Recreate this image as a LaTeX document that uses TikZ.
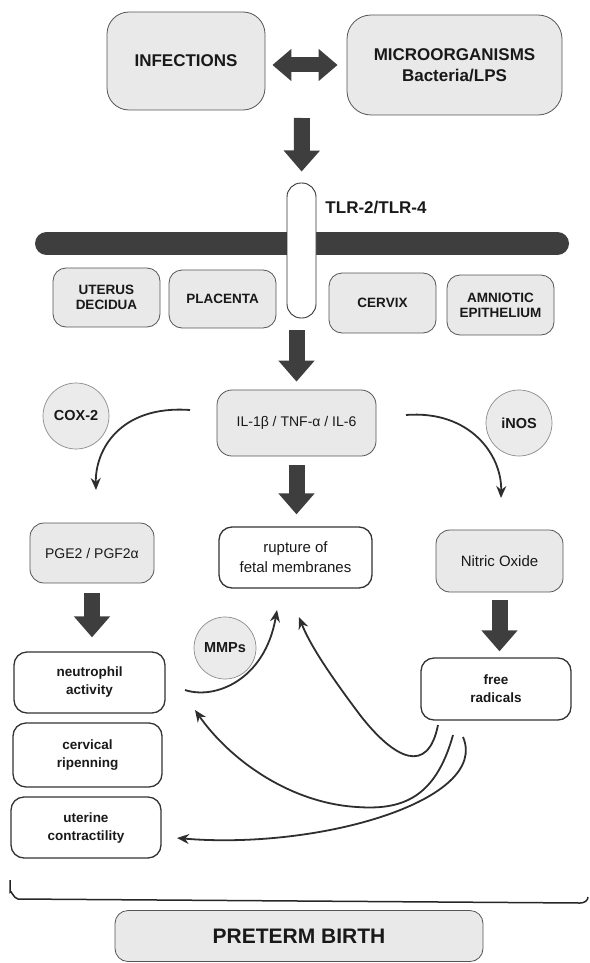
\documentclass[tikz,border=0pt]{standalone}
\usepackage{fontspec}
\setmainfont{Liberation Sans}
\usetikzlibrary{arrows.meta}
\definecolor{darkfill}{HTML}{3E3E3E}
\definecolor{boxfill}{HTML}{E9E9E9}
\definecolor{boxline}{HTML}{555555}
\begin{document}
\begin{tikzpicture}[x=1pt,y=-1pt,
  graybox/.style={draw=boxline, line width=0.8pt, fill=boxfill, align=center, inner sep=0pt, text=black!90},
  whitebox/.style={draw=black!80, line width=1.3pt, fill=white, rounded corners=13pt, align=center, inner sep=0pt, text=black!90},
  enzyme/.style={circle, draw=black!45, line width=0.7pt, fill=black!8, inner sep=0pt, text=black!90,
    font=\bfseries\fontsize{14.5pt}{16pt}\selectfont},
  bigfont/.style={font=\bfseries\fontsize{17pt}{21pt}\selectfont},
  tissuefont/.style={font=\bfseries\fontsize{13.5pt}{15pt}\selectfont},
  labfont/.style={font=\fontsize{14pt}{19pt}\selectfont},
  largelab/.style={font=\fontsize{15pt}{20pt}\selectfont},
  boldlab/.style={font=\bfseries\fontsize{13.5pt}{18pt}\selectfont},
  blockarrow/.style={draw=darkfill, line width=16pt, -{Triangle[length=21pt,width=35pt]}, color=darkfill},
  dblarrow/.style={draw=darkfill, line width=15pt, {Triangle[length=19pt,width=31pt]}-{Triangle[length=19pt,width=31pt]}, color=darkfill},
  thinarrow/.style={draw=black!82, line width=1.8pt, -{Stealth[length=12pt,width=10pt]}}
]
\useasboundingbox (0,0) rectangle (589,963);

% top
\node[graybox, rounded corners=22pt, minimum width=158pt, minimum height=98pt, bigfont] (inf) at (186,61) {INFECTIONS};
\node[graybox, rounded corners=24pt, minimum width=215pt, minimum height=100pt, bigfont] (mic) at (454.5,65) {MICROORGANISMS\\Bacteria/LPS};
\draw[dblarrow, shorten <=7pt, shorten >=9pt] (inf.east |- mic.west) -- (mic.west);

% membrane
\draw[line width=23pt, line cap=round, color=darkfill] (46.5,243.5) -- (557.5,243.5);
\node[draw=black!80, line width=0.9pt, fill=white, rounded corners=14pt, minimum width=29pt, minimum height=135pt, inner sep=0pt] (tlr) at (301.5,250.5) {};
\node[bigfont, text=black!90] (tlrlbl) at (376,208) {TLR-2/TLR-4};
\coordinate (topsrc) at (302,118);
\draw[blockarrow, shorten >=11pt] (topsrc) -- (tlr.north);

% tissues
\node[graybox, rounded corners=13pt, minimum width=107pt, minimum height=59pt, tissuefont] (ut) at (106.5,297.5) {UTERUS\\DECIDUA};
\node[graybox, rounded corners=13pt, minimum width=107pt, minimum height=58pt, tissuefont] (pl) at (222.5,299) {PLACENTA};
\node[graybox, rounded corners=13pt, minimum width=107pt, minimum height=60pt, tissuefont] (cx) at (382.5,303) {CERVIX};
\node[graybox, rounded corners=13pt, minimum width=107pt, minimum height=60pt, tissuefont] (am) at (500.5,305) {AMNIOTIC\\EPITHELIUM};

% cytokines
\node[graybox, rounded corners=15pt, minimum width=159pt, minimum height=66pt, labfont] (il) at (296.5,423) {IL-1β / TNF-α / IL-6};
\draw[blockarrow, shorten <=12pt, shorten >=8pt] (tlr.south -| il.north) -- (il.north);

\node[enzyme, minimum size=66pt] (cox) at (76,416) {COX-2};
\node[enzyme, minimum size=66pt] (inos) at (519,423) {iNOS};

% second row
\node[graybox, rounded corners=14pt, minimum width=124pt, minimum height=60pt, labfont] (pge) at (92,553) {PGE2 / PGF2α};
\node[whitebox, minimum width=153pt, minimum height=61pt, largelab] (rup) at (295.5,557.5) {rupture of\\fetal membranes};
\node[graybox, rounded corners=14pt, minimum width=127pt, minimum height=62pt, largelab] (no) at (499.5,561) {Nitric Oxide};

\draw[blockarrow, shorten <=9pt, shorten >=12pt] (il.south) -- (il.south |- rup.north);

\coordinate (Ls) at (190,410);
\coordinate (Le) at (96,490);
\coordinate (Rs) at (406,415);
\coordinate (Re) at (501,498);
\draw[thinarrow] (Ls) .. controls (120,405) and (95,450) .. (Le);
\draw[thinarrow] (Rs) .. controls (470,410) and (502,455) .. (Re);

% third row
\node[whitebox, minimum width=151pt, minimum height=61pt, boldlab] (neu) at (89.5,682.5) {neutrophil\\activity};
\node[whitebox, minimum width=150pt, minimum height=62pt, boldlab] (fr) at (496,689) {free\\radicals};
\node[whitebox, minimum width=149pt, minimum height=64pt, boldlab] (cer) at (87.5,755) {cervical\\ripenning};
\node[whitebox, minimum width=150pt, minimum height=61pt, boldlab] (ute) at (86,827.5) {uterine\\contractility};
\node[enzyme, minimum size=62pt] (mmp) at (225,648) {MMPs};

\draw[blockarrow, shorten <=10pt, shorten >=14pt] (pge.south) -- (pge.south |- neu.north);
\draw[blockarrow, shorten <=8pt, shorten >=6pt] (no.south) -- (no.south |- fr.north);

% curved connectors
\coordinate (As) at (185,690);
\coordinate (Ae) at (277,610);
\coordinate (Bs) at (438,725);
\coordinate (Be) at (299,617);
\coordinate (Cs) at (453,735);
\coordinate (Ce) at (195,710);
\coordinate (Ds) at (463,737);
\coordinate (De) at (177,838);
\draw[thinarrow] (As) .. controls (215,700) and (265,680) .. (Ae);
\draw[thinarrow] (Bs) .. controls (428,775) and (395,760) .. (360,715) .. controls (330,675) and (310,645) .. (Be);
\draw[thinarrow] (Cs) .. controls (435,800) and (400,810) .. (357,807) .. controls (290,803) and (230,760) .. (Ce);
\draw[thinarrow] (Ds) .. controls (490,800) and (320,850) .. (De);

% bracket
\draw[black!85, line width=1.5pt] (10,880) -- (10,892) to[out=90,in=180] (18,899) -- (580,903) to[out=0,in=-90] (588,897);

% result
\node[graybox, rounded corners=13pt, minimum width=368pt, minimum height=51pt, font=\bfseries\fontsize{21pt}{24pt}\selectfont] (pb) at (299,936) {PRETERM BIRTH};
\end{tikzpicture}
\end{document}
